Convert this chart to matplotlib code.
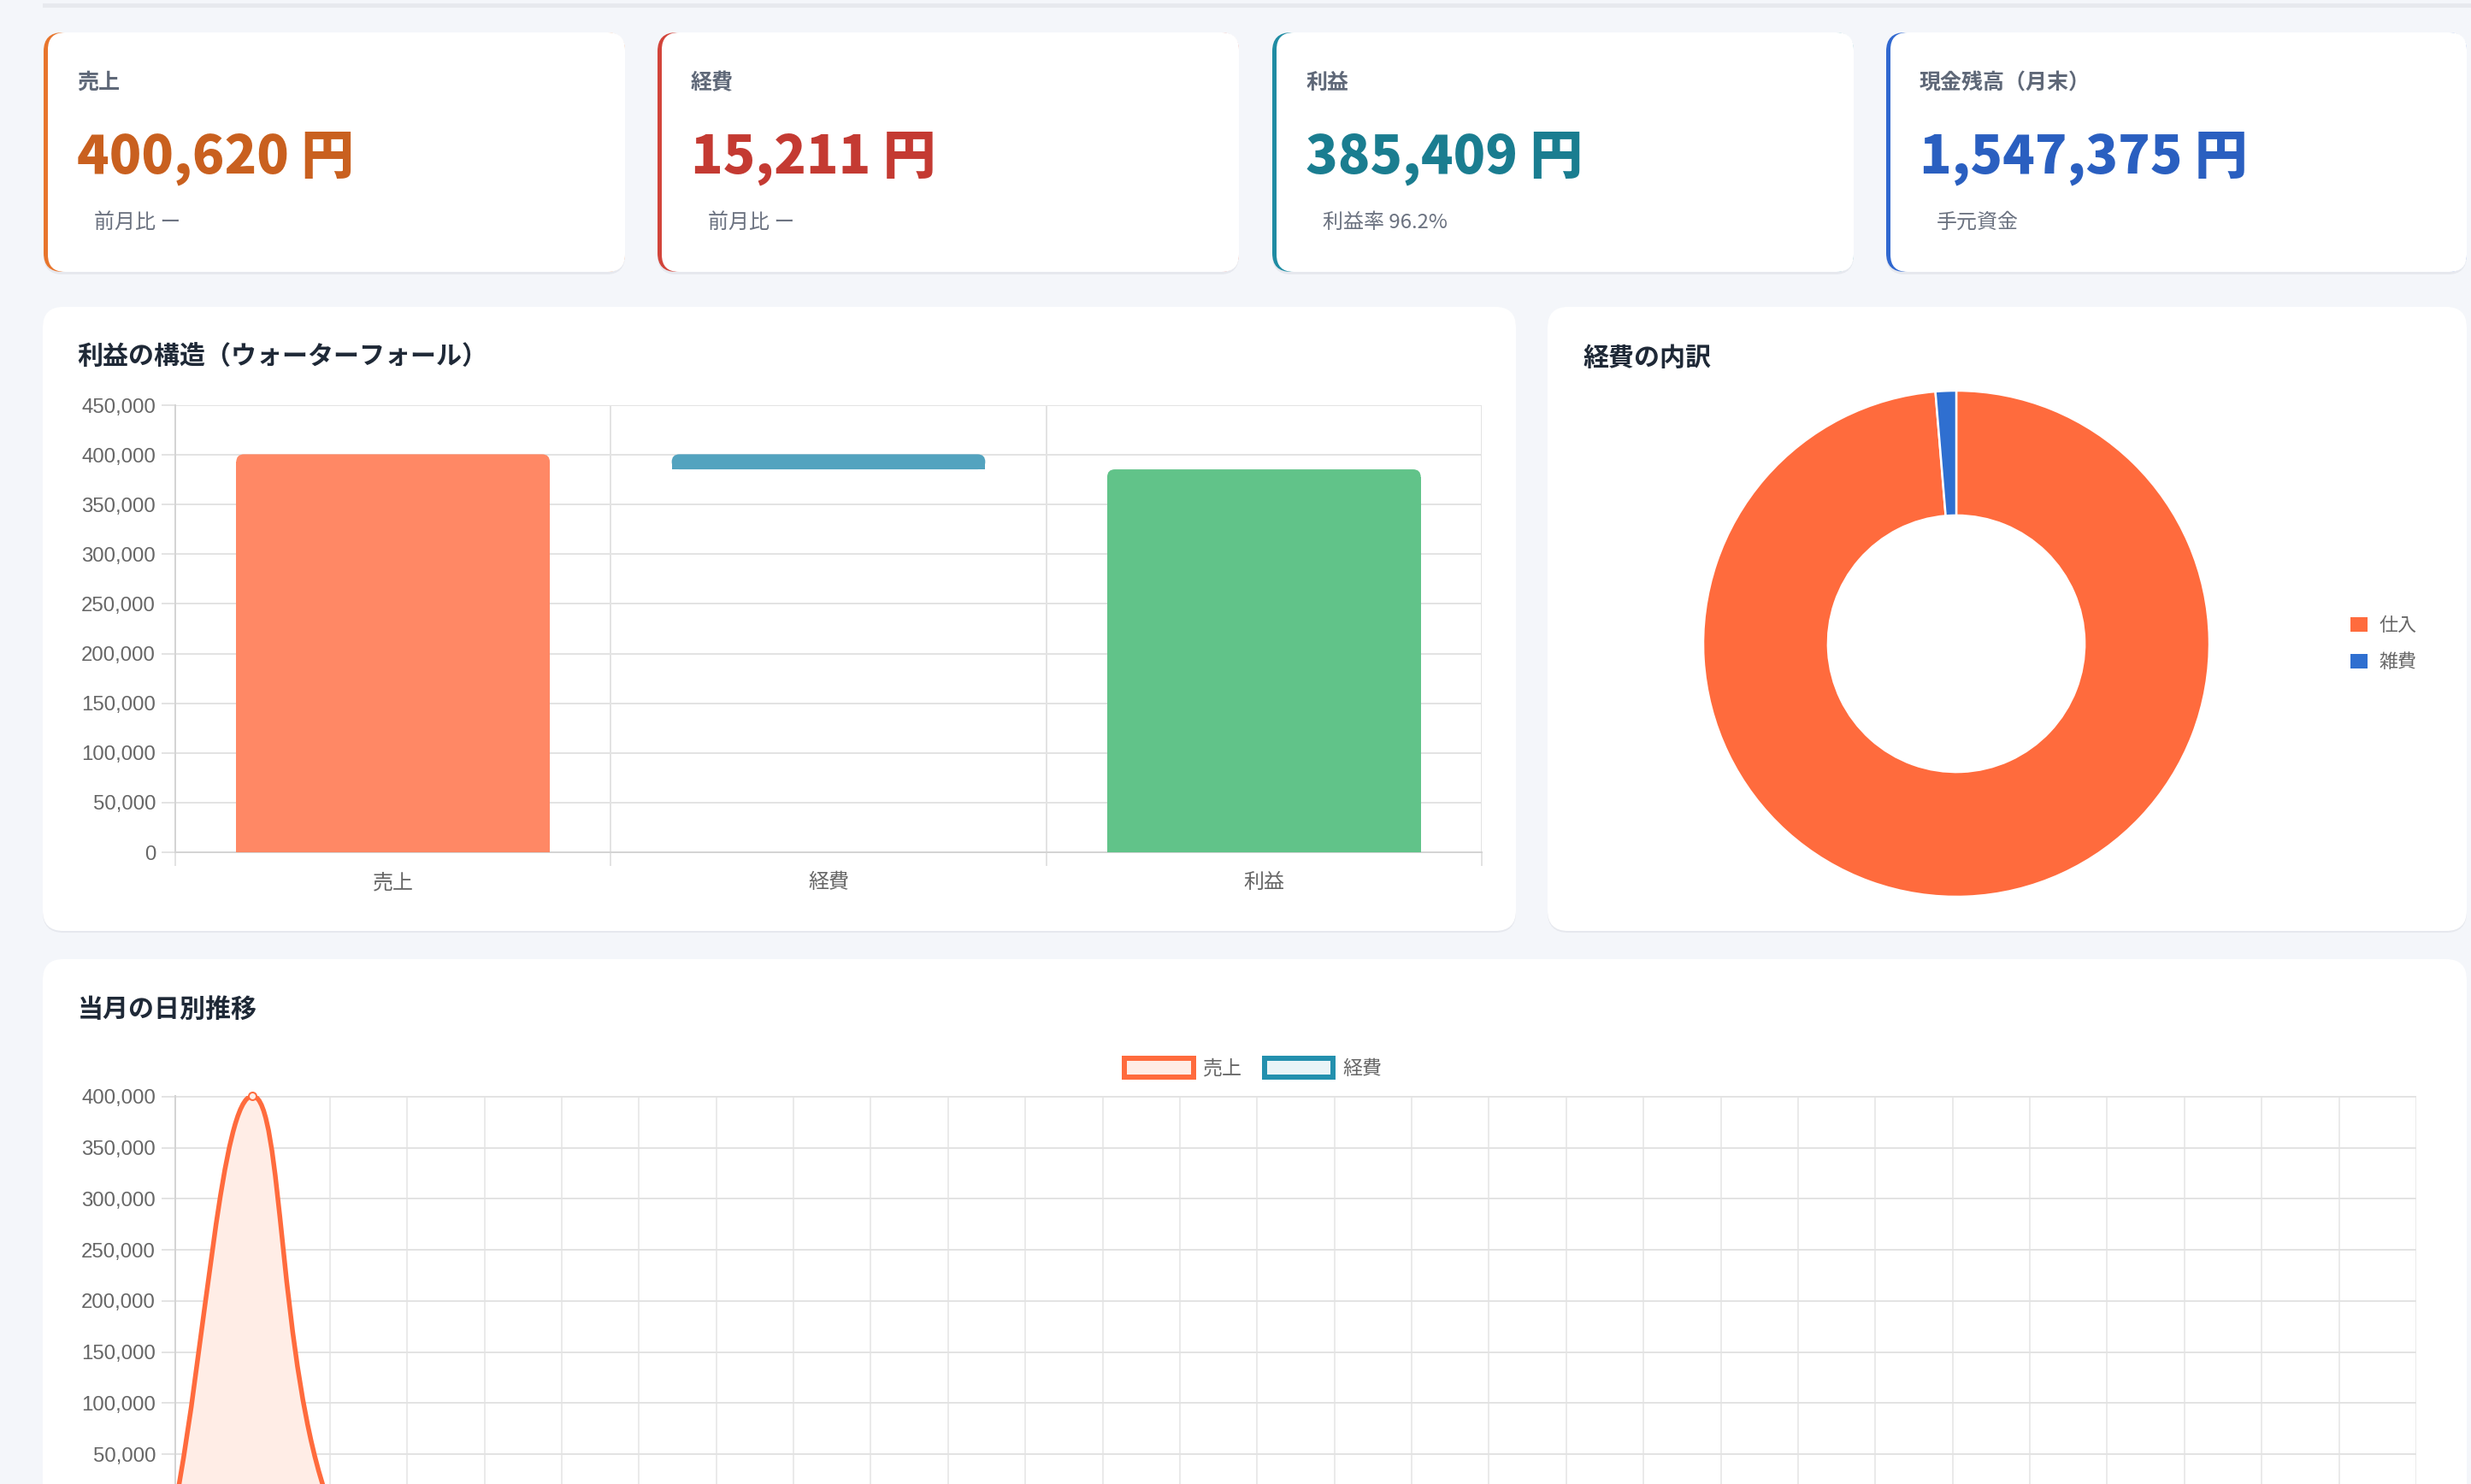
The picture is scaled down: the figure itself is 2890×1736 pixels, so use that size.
import numpy as np
import matplotlib
matplotlib.use('Agg')
import matplotlib.pyplot as plt
from matplotlib.patches import FancyBboxPatch, Rectangle, PathPatch
from matplotlib.path import Path
from matplotlib.ticker import FuncFormatter

W, H = 2890, 1736
DPI = 100
PT = 72.0 / DPI  # px -> pt

# ---- データ ----
kpi_titles = ['売上', '経費', '利益', '現金残高（月末）']
kpi_values = [400620, 15211, 385409, 1547375]
kpi_notes = ['前月比 ー', '前月比 ー', '利益率 96.2%', '手元資金']
kpi_colors = ['#C9601F', '#C43A32', '#1A7D90', '#2A5FC0']
kpi_stripes = ['#E8752C', '#D2443A', '#1F8CA3', '#3068D0']

wf_labels = ['売上', '経費', '利益']
wf_base = [0, 385409, 0]
wf_height = [400620, 15211, 385409]
wf_colors = ['#FF8865', '#53A3BF', '#61C389']

exp_labels = ['仕入', '雑費']
exp_values = [15011, 200]
exp_colors = ['#FF6B3D', '#2F6FD0']

days = ['1日', '2日', '3日', '4日', '5日', '6日', '7日', '8日', '9日', '10日',
        '11日', '12日', '13日', '14日', '15日', '16日', '17日', '18日', '19日', '20日',
        '21日', '22日', '23日', '24日', '25日', '26日', '27日', '28日', '29日', '30日']
daily_sales = [0, 400620, 0, 0, 0, 0, 0, 0, 0, 0,
               0, 0, 0, 0, 0, 0, 0, 0, 0, 0,
               0, 0, 0, 0, 0, 0, 0, 0, 0, 0]
daily_exp = [0, 15211, 0, 0, 0, 0, 0, 0, 0, 0,
             0, 0, 0, 0, 0, 0, 0, 0, 0, 0,
             0, 0, 0, 0, 0, 0, 0, 0, 0, 0]

plt.rcParams['font.family'] = ['Liberation Sans', 'Noto Sans CJK JP']
JP = ['Noto Sans CJK JP', 'DejaVu Sans']

fig = plt.figure(figsize=(W / DPI, H / DPI), dpi=DPI, facecolor='#F4F6FA')


def fx(px):
    return px / W


def fy(py):
    return 1 - py / H


def rbox(x0, y0, x1, y1, r=22, fc='white', ec='none', lw=0, z=-5):
    p = FancyBboxPatch((fx(x0), fy(y1)), (x1 - x0) / W, (y1 - y0) / H,
                       boxstyle='round,pad=0,rounding_size=%f' % (r / W),
                       mutation_aspect=W / H, transform=fig.transFigure,
                       fc=fc, ec=ec, lw=lw, zorder=z)
    fig.add_artist(p)


def ftext(x, y, s, **kw):
    fig.text(fx(x), fy(y), s, **kw)


# 上部のライン
fig.add_artist(Rectangle((fx(50), fy(9)), 1, 5 / H, transform=fig.transFigure,
                         fc='#E7E9EE', ec='none', zorder=-6))

# ---- KPIカード ----
cards_x = [(51, 731), (769, 1449), (1488, 2168), (2206, 2885)]
for i, (x0, x1) in enumerate(cards_x):
    rbox(x0, 40, x1, 321, r=22, fc='#E6E8EE', z=-7)
    rbox(x0, 38, x1, 318, r=22, fc=kpi_stripes[i], z=-6)
    rbox(x0 + 5, 38, x1, 318, r=20, fc='white', z=-5)
    ftext(x0 + 39, 97, kpi_titles[i], family=JP, weight='bold', fontsize=25 * PT,
          color='#5F6878', va='center', ha='left')
    ftext(x0 + 39, 185, '{:,} 円'.format(kpi_values[i]), family=JP, weight='heavy',
          fontsize=62 * PT, color=kpi_colors[i], va='center', ha='left')
    ftext(x0 + 59, 260, kpi_notes[i], family=JP, fontsize=24 * PT,
          color='#6B7280', va='center', ha='left')

# ---- パネル ----
rbox(50, 361, 1773, 1091, r=24, fc='#E6E8EE', z=-7)
rbox(50, 359, 1773, 1089, r=24, fc='white', z=-5)
rbox(1810, 361, 2885, 1091, r=24, fc='#E6E8EE', z=-7)
rbox(1810, 359, 2885, 1089, r=24, fc='white', z=-5)
rbox(50, 1124, 2885, 1800, r=24, fc='#E6E8EE', z=-7)
rbox(50, 1122, 2885, 1800, r=24, fc='white', z=-5)

ftext(90, 418, '利益の構造（ウォーターフォール）', family=JP, weight='bold',
      fontsize=30 * PT, color='#1F2937', va='center', ha='left')
ftext(1851, 419, '経費の内訳', family=JP, weight='bold',
      fontsize=30 * PT, color='#1F2937', va='center', ha='left')
ftext(91, 1181, '当月の日別推移', family=JP, weight='bold',
      fontsize=30 * PT, color='#1F2937', va='center', ha='left')

GRID = '#E3E3E3'
TICKC = '#666666'
TS = 24 * PT
fmt = FuncFormatter(lambda v, p: '{:,.0f}'.format(v))

# ---- ウォーターフォール ----
ax1 = fig.add_axes([fx(205), fy(997), (1733 - 205) / W, (997 - 474) / H])
ax1.patch.set_alpha(0)
ax1.set_xlim(-0.5, 2.5)
ax1.set_ylim(0, 450000)
bw = 0.72
rad_px = 9
rx = rad_px * 3.0 / 1528
ma = (450000.0 / 523) / (3.0 / 1528)
for i in range(len(wf_labels)):
    b, h = wf_base[i], wf_height[i]
    ax1.add_patch(FancyBboxPatch((i - bw / 2, b), bw, h,
                                 boxstyle='round,pad=0,rounding_size=%f' % rx,
                                 mutation_aspect=ma, fc=wf_colors[i], ec='none', zorder=3))
    ax1.add_patch(Rectangle((i - bw / 2, b), bw, max(h - rx * ma, 0),
                            fc=wf_colors[i], ec='none', zorder=3))
ax1.set_yticks(np.arange(0, 450001, 50000))
ax1.yaxis.set_major_formatter(fmt)
ax1.set_xticks(range(len(wf_labels)))
ax1.set_xticklabels(wf_labels)
ax1.set_xticks([-0.5, 0.5, 1.5, 2.5], minor=True)
ax1.grid(True, axis='y', which='major', color=GRID, lw=2 * PT)
ax1.grid(True, axis='x', which='minor', color=GRID, lw=2 * PT)
ax1.tick_params(axis='y', length=16 * PT, width=2 * PT, color=GRID,
                labelsize=TS, labelcolor=TICKC, pad=7 * PT)
ax1.tick_params(axis='x', which='major', length=0, labelsize=TS,
                labelcolor=TICKC, pad=25 * PT)
ax1.tick_params(axis='x', which='minor', length=16 * PT, width=2 * PT, color=GRID)
for s in ['top', 'right']:
    ax1.spines[s].set_visible(False)
for s in ['left', 'bottom']:
    ax1.spines[s].set_color('#D4D4D4')
    ax1.spines[s].set_linewidth(2 * PT)
ax1.set_axisbelow(True)

# ---- ドーナツ ----
R = 296
ax2 = fig.add_axes([fx(2288 - R), fy(753 + R), 2 * R / W, 2 * R / H])
wedges, _ = ax2.pie(exp_values, colors=exp_colors, startangle=90, counterclock=False,
                    radius=1.0, wedgeprops=dict(width=0.493, edgecolor='white', linewidth=2.5 * PT))
ax2.set_xlim(-1, 1)
ax2.set_ylim(-1, 1)
hs = [Rectangle((0, 0), 1, 1, fc=c, ec='none') for c in exp_colors]
ax2.legend(hs, exp_labels, loc='center left', bbox_to_anchor=(fx(2749), fy(754)),
           bbox_transform=fig.transFigure, frameon=False, fontsize=22 * PT,
           handlelength=0.9, handleheight=0.8, handletextpad=0.6,
           labelspacing=1.0, borderpad=0, borderaxespad=0, labelcolor=TICKC)

# ---- 日別推移 ----
ax3 = fig.add_axes([fx(205), fy(1761), (2826 - 205) / W, (1761 - 1282) / H])
ax3.patch.set_alpha(0)
xs = np.arange(len(days))
ax3.set_xlim(0, len(days) - 1)
ax3.set_ylim(0, 400620)


def spline(ax, x, y, t=0.4):
    pts = ax.transData.transform(np.column_stack([x, y]).astype(float))
    n = len(pts)
    cprev = pts.copy()
    cnext = pts.copy()
    for i in range(n):
        p0 = pts[i - 1] if i > 0 else pts[i]
        p1 = pts[i]
        p2 = pts[i + 1] if i < n - 1 else pts[i]
        d01 = np.hypot(*(p1 - p0))
        d12 = np.hypot(*(p2 - p1))
        tot = d01 + d12
        s01 = d01 / tot if tot else 0
        s12 = d12 / tot if tot else 0
        cprev[i] = p1 - t * s01 * (p2 - p0)
        cnext[i] = p1 + t * s12 * (p2 - p0)
    lo = ax.transData.transform((0, ax.get_ylim()[0]))[1]
    hi = ax.transData.transform((0, ax.get_ylim()[1]))[1]
    cprev[:, 1] = np.clip(cprev[:, 1], lo, hi)
    cnext[:, 1] = np.clip(cnext[:, 1], lo, hi)
    verts = [pts[0]]
    codes = [Path.MOVETO]
    for i in range(n - 1):
        verts += [cnext[i], cprev[i + 1], pts[i + 1]]
        codes += [Path.CURVE4] * 3
    verts = ax.transData.inverted().transform(np.array(verts))
    return verts, codes


for vals, col, fill in [(daily_exp, '#2390AE', '#E9F4F7'), (daily_sales, '#FF6B3D', '#FFEDE6')]:
    v, c = spline(ax3, xs, vals)
    fv = np.vstack([v, [[xs[-1], 0], [xs[0], 0], [xs[0], 0]]])
    fc_ = c + [Path.LINETO, Path.LINETO, Path.CLOSEPOLY]
    ax3.add_patch(PathPatch(Path(fv, fc_), fc=fill, ec='none', zorder=2))
    ax3.add_patch(PathPatch(Path(v, c), fc='none', ec=col, lw=5.5 * PT, zorder=4,
                            capstyle='round', joinstyle='round'))
    ax3.plot(xs, vals, 'o', ms=9 * PT, mfc=fill, mec=col, mew=2 * PT, zorder=5, clip_on=False)

# 0 と日付ラベルは画面外なので目盛だけ
ax3.set_yticks(np.arange(50000, 400001, 50000))
ax3.yaxis.set_major_formatter(fmt)
ax3.set_xticks(xs)
ax3.set_xticklabels(days)
ax3.grid(True, axis='y', color=GRID, lw=2 * PT)
ax3.grid(True, axis='x', color='#E4E4E4', lw=1.5 * PT)
ax3.tick_params(axis='y', length=16 * PT, width=2 * PT, color=GRID,
                labelsize=TS, labelcolor=TICKC, pad=7 * PT)
ax3.tick_params(axis='x', length=16 * PT, width=1.5 * PT, color=GRID,
                labelsize=TS, labelcolor=TICKC, labelbottom=False)
for s in ['top', 'right']:
    ax3.spines[s].set_visible(False)
for s in ['left', 'bottom']:
    ax3.spines[s].set_color('#D4D4D4')
    ax3.spines[s].set_linewidth(2 * PT)
ax3.set_axisbelow(True)

lh = [Rectangle((0, 0), 1, 1, fc='#FFEDE6', ec='#FF6B3D', lw=6 * PT),
      Rectangle((0, 0), 1, 1, fc='#E9F4F7', ec='#2390AE', lw=6 * PT)]
ax3.legend(lh, ['売上', '経費'], loc='center', bbox_to_anchor=(fx(1466), fy(1250)),
           bbox_transform=fig.transFigure, ncol=2, frameon=False, fontsize=23 * PT,
           handlelength=3.5, handleheight=1.05, handletextpad=0.5, columnspacing=1.1,
           borderpad=0, borderaxespad=0, labelcolor=TICKC)

fig.savefig('out.png', dpi=DPI, facecolor=fig.get_facecolor())
